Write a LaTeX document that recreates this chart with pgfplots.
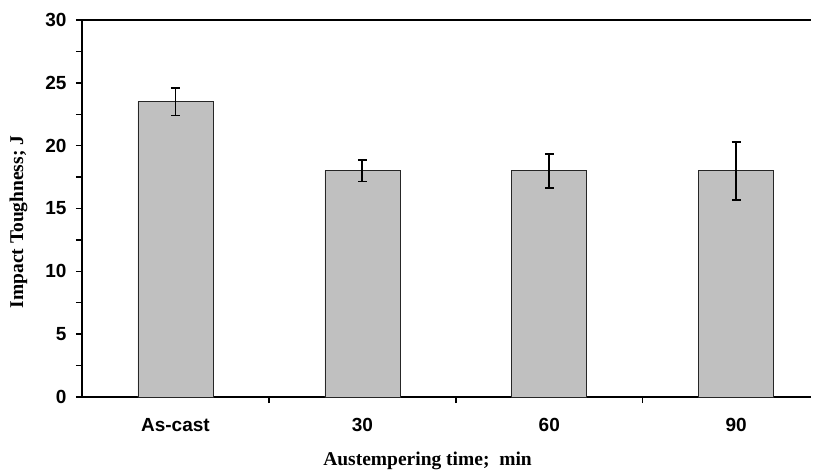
\documentclass[border=0pt]{standalone}
\usepackage{pgfplots}
\pgfplotsset{compat=1.18}
\usepackage{fontspec}
\setmainfont{Liberation Serif}
\newfontfamily\arial{Liberation Sans}
\definecolor{barfill}{RGB}{192,192,192}
\begin{document}
\begin{tikzpicture}
\useasboundingbox (-82pt,-75pt) rectangle (741pt,397pt);
\begin{axis}[
  at={(0,0)}, anchor=south west,
  scale only axis, width=729pt, height=377pt,
  ybar, bar width=75pt,
  xmin=-0.5, xmax=3.4, ymin=0, ymax=30,
  axis x line*=bottom, axis y line*=left,
  axis line style={line width=1.8pt, -},
  ytick={0,5,...,30}, minor ytick={2.5,7.5,...,27.5},
  xtick={0,1,2,3}, xticklabels={As-cast,30,60,90},
  minor xtick={0.5,1.5,2.5},
  major x tick style={draw=none},
  tick align=outside, major tick length=6pt, minor tick length=6pt,
  tick style={black, line width=1.4pt},
  /pgf/number format/assume math mode=true,
  tick label style={font=\arial\bfseries\fontsize{19}{22}\selectfont},
  yticklabel style={xshift=-6pt},
  xticklabel style={yshift=-12pt},
  extra y ticks={30}, extra y tick labels={},
  extra y tick style={grid=major, major grid style={black, line width=1.8pt}, major tick length=0pt},
  xlabel={Austempering time;\ \ min},
  ylabel={Impact Toughness;\ J},
  label style={font=\bfseries\fontsize{19.5}{22}\selectfont},
  xlabel style={at={(axis description cs:0.474,-0.17)}, anchor=center},
  ylabel style={at={(axis description cs:-0.087,0.464)}, anchor=center},
]
\addplot[fill=barfill, draw=black!85, line width=0.7pt,
  error bars/.cd, y dir=both, y explicit,
  error bar style={line width=1.8pt, black},
  error mark options={rotate=90, mark size=4.5pt, line width=1.8pt, black}]
  coordinates {(0,23.5) +- (0,1.1) (1,18) +- (0,0.85) (2,18) +- (0,1.35) (3,18) +- (0,2.3)};
\end{axis}
\end{tikzpicture}
\end{document}
